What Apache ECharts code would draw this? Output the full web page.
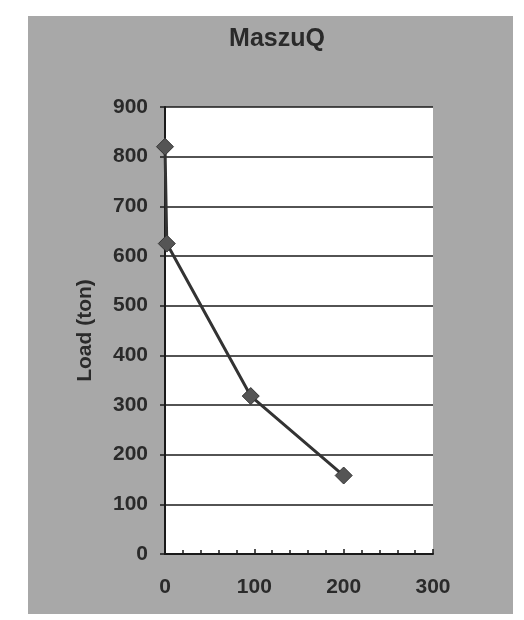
<!DOCTYPE html>
<html>
<head>
<meta charset="utf-8">
<script src="https://cdn.jsdelivr.net/npm/echarts@6/dist/echarts.min.js"></script>
<style>html,body{margin:0;padding:0;background:#fff;}#c{width:524px;height:620px;}</style>
</head>
<body>
<div id="c"></div>
<script>
const title = 'MaszuQ';
const yAxisName = 'Load (ton)';
const xValues = [0, 2, 96, 200];
const loadValues = [820, 625, 318, 158];

const chart = echarts.init(document.getElementById('c'), null, {renderer: 'canvas'});
const points = xValues.map((x, i) => [x, loadValues[i]]);
const font = 'Liberation Sans, Arial, sans-serif';
chart.setOption({
  animation: false,
  backgroundColor: '#ffffff',
  graphic: [{
    type: 'rect', z: -10, silent: true,
    shape: {x: 28, y: 16, width: 485, height: 598},
    style: {fill: '#a8a8a8'}
  }],
  title: {
    text: title, left: 272, top: 22, textAlign: 'center',
    textStyle: {fontFamily: font, fontWeight: 'bold', fontSize: 25, color: '#2a2a2a'}
  },
  grid: {left: 165, right: 91, top: 107, bottom: 66, show: true, backgroundColor: '#ffffff', borderWidth: 0},
  xAxis: {
    type: 'value', min: 0, max: 300, interval: 100,
    axisLine: {show: true, onZero: false, lineStyle: {color: '#1a1a1a', width: 2}},
    axisTick: {show: true, inside: true, length: 5, lineStyle: {color: '#1a1a1a', width: 1.5}},
    minorTick: {show: true, splitNumber: 5, length: 4, lineStyle: {color: '#1a1a1a', width: 1.5}},
    axisLabel: {margin: 23, fontFamily: font, fontWeight: 'bold', fontSize: 21, color: '#2a2a2a'},
    splitLine: {show: false}
  },
  yAxis: {
    type: 'value', min: 0, max: 900, interval: 100,
    name: yAxisName, nameLocation: 'middle', nameGap: 69,
    nameTextStyle: {fontFamily: font, fontWeight: 'bold', fontSize: 21, color: '#2a2a2a'},
    axisLine: {show: true, lineStyle: {color: '#1a1a1a', width: 2}},
    axisTick: {show: true, inside: false, length: 5, lineStyle: {color: '#1a1a1a', width: 1.5}},
    axisLabel: {margin: 17, fontFamily: font, fontWeight: 'bold', fontSize: 21, color: '#2a2a2a'},
    splitLine: {show: true, lineStyle: {color: '#1a1a1a', width: 1.5}}
  },
  series: [{
    type: 'line', data: points,
    symbol: 'diamond', symbolSize: 17,
    lineStyle: {color: '#333333', width: 3},
    itemStyle: {color: '#555555', borderColor: '#333333', borderWidth: 1}
  }]
});
</script>
</body>
</html>
